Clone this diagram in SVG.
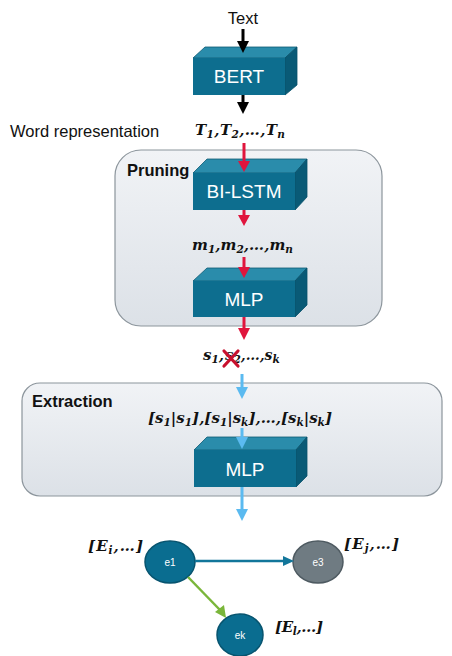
<svg xmlns="http://www.w3.org/2000/svg" width="452" height="656" viewBox="0 0 452 656">
  <defs>
    <linearGradient id="panelFill" x1="0" y1="0" x2="0" y2="1">
      <stop offset="0" stop-color="#f1f3f6"/>
      <stop offset="1" stop-color="#dce1e7"/>
    </linearGradient>
    <style>
      .panel { fill: url(#panelFill); stroke: #8c959c; stroke-width: 1.2; }
      .front { fill: #0d6e8f; }
      .top { fill: #2a8cab; stroke: #0c5a74; stroke-width: 0.8; }
      .side { fill: #095a76; stroke: #08506a; stroke-width: 0.8; }
      .boxlabel { font-family: "Liberation Sans", Arial, sans-serif; font-size: 19px; fill: #ffffff; text-anchor: middle; }
      .plain { font-family: "Liberation Sans", Arial, sans-serif; font-size: 16.5px; fill: #111; }
      .title { font-family: "Liberation Sans", Arial, sans-serif; font-size: 16.5px; font-weight: bold; fill: #111; }
      .math { font-family: "DejaVu Serif", "Liberation Serif", serif; font-size: 15px; font-weight: bold; font-style: italic; fill: #111; }
      .sub { font-size: 10.5px; }
      .nodelabel { font-family: "Liberation Sans", Arial, sans-serif; font-size: 10px; fill: #ffffff; text-anchor: middle; }
      .red { stroke: #e0153d; stroke-width: 3; fill: none; }
      .redhead { fill: #e0153d; }
      .blue { stroke: #5bbaf0; stroke-width: 3; fill: none; }
      .bluehead { fill: #5bbaf0; }
      .black { stroke: #000; stroke-width: 3; fill: none; }
      .blackhead { fill: #000; }
    </style>
  </defs>

  <!-- background panels -->
  <g id="pruning">
    <rect class="panel" x="115" y="150" width="267" height="176" rx="26"/>
    <text class="title" x="127" y="176">Pruning</text>
  </g>
  <g id="extraction">
    <rect class="panel" x="22" y="383" width="420" height="113" rx="18"/>
    <text class="title" x="32" y="407">Extraction</text>
  </g>

  <!-- plain and math labels -->
  <g id="labels">
    <text class="plain" x="243" y="24" text-anchor="middle" font-size="19">Text</text>
    <text class="plain" x="10" y="137">Word representation</text>
    <text class="math" x="195" y="135" textLength="90" lengthAdjust="spacing">T<tspan class="sub" dy="3">1</tspan><tspan dy="-3">,T</tspan><tspan class="sub" dy="3">2</tspan><tspan dy="-3">,…,T</tspan><tspan class="sub" dy="3">n</tspan></text>
    <text class="math" x="192" y="250" textLength="101" lengthAdjust="spacing">m<tspan class="sub" dy="3">1</tspan><tspan dy="-3">,m</tspan><tspan class="sub" dy="3">2</tspan><tspan dy="-3">,…,m</tspan><tspan class="sub" dy="3">n</tspan></text>
    <text class="math" x="203" y="360">s<tspan class="sub" dy="3">1</tspan><tspan dy="-3">,</tspan><tspan x="225">s</tspan><tspan class="sub" dy="3">2</tspan><tspan dy="-3" font-size="14">,…,s</tspan><tspan class="sub" dy="3" font-size="10">k</tspan></text>
    <text class="math" x="148" y="423" textLength="184" lengthAdjust="spacing">[s<tspan class="sub" dy="3">1</tspan><tspan dy="-3">|s</tspan><tspan class="sub" dy="3">1</tspan><tspan dy="-3">],[s</tspan><tspan class="sub" dy="3">1</tspan><tspan dy="-3">|s</tspan><tspan class="sub" dy="3">k</tspan><tspan dy="-3">],…,[s</tspan><tspan class="sub" dy="3">k</tspan><tspan dy="-3">|s</tspan><tspan class="sub" dy="3">k</tspan><tspan dy="-3">]</tspan></text>
    <text class="math" x="88" y="551" textLength="55" lengthAdjust="spacing">[E<tspan class="sub" dy="3">i</tspan><tspan dy="-3">,…]</tspan></text>
    <text class="math" x="344" y="549" textLength="55" lengthAdjust="spacing">[E<tspan class="sub" dy="3">j</tspan><tspan dy="-3">,…]</tspan></text>
    <text class="math" x="275" y="632" textLength="48" lengthAdjust="spacing">[E<tspan class="sub" dy="3">l</tspan><tspan dy="-3">,…]</tspan></text>
    <!-- pruned element mark -->
    <g stroke="#c8102e" stroke-width="3.2" stroke-linecap="round">
      <line x1="224" y1="351" x2="238" y2="366"/>
      <line x1="238" y1="351" x2="224" y2="366"/>
    </g>
  </g>

  <!-- 3D blocks -->
  <g id="bert">
    <polygon class="top" points="193,58 205,47 297,47 285,58"/>
    <polygon class="side" points="285,58 297,47 297,85 285,95"/>
    <rect class="front" x="193" y="58" width="92" height="37"/>
    <text class="boxlabel" x="239" y="83">BERT</text>
  </g>
  <g id="bilstm">
    <polygon class="top" points="193,173 207,159 307,159 295,173"/>
    <polygon class="side" points="295,173 307,159 307,197 295,210"/>
    <rect class="front" x="193" y="173" width="102" height="37"/>
    <text class="boxlabel" x="244" y="198">BI-LSTM</text>
  </g>
  <g id="mlp-pruning">
    <polygon class="top" points="193,281 207,268 307,268 295,281"/>
    <polygon class="side" points="295,281 307,268 307,305 295,317"/>
    <rect class="front" x="193" y="281" width="102" height="36"/>
    <text class="boxlabel" x="244" y="306">MLP</text>
  </g>
  <g id="mlp-extraction">
    <polygon class="top" points="194,450 207,437 307,437 296,450"/>
    <polygon class="side" points="296,450 307,437 307,476 296,487"/>
    <rect class="front" x="194" y="450" width="102" height="37"/>
    <text class="boxlabel" x="245" y="476">MLP</text>
  </g>

  <!-- entity nodes -->
  <g id="e1">
    <ellipse cx="170" cy="562" rx="25" ry="21" fill="#0a6d90" stroke="#07546f" stroke-width="1.5"/>
    <text class="nodelabel" x="170" y="566">e1</text>
  </g>
  <g id="e3">
    <ellipse cx="318" cy="562" rx="25" ry="21" fill="#6f7b82" stroke="#4e5a61" stroke-width="1.5"/>
    <text class="nodelabel" x="318" y="566">e3</text>
  </g>
  <g id="ek">
    <ellipse cx="240" cy="635" rx="23" ry="21" fill="#0a6d90" stroke="#07546f" stroke-width="1.5"/>
    <text class="nodelabel" x="240" y="639">ek</text>
  </g>

  <!-- connectors -->
  <g id="connectors">
    <!-- black -->
    <line class="black" x1="243" y1="29" x2="243" y2="42"/>
    <polygon class="blackhead" points="237,41 249,41 243,53"/>
    <line class="black" x1="243" y1="95" x2="243" y2="103"/>
    <polygon class="blackhead" points="237,102 249,102 243,114"/>
    <!-- red -->
    <line class="red" x1="244" y1="143" x2="244" y2="162"/>
    <polygon class="redhead" points="238,161 250,161 244,172"/>
    <line class="red" x1="244" y1="210" x2="244" y2="216"/>
    <polygon class="redhead" points="238,215 250,215 244,226"/>
    <line class="red" x1="244" y1="257" x2="244" y2="268"/>
    <polygon class="redhead" points="238,267 250,267 244,278"/>
    <line class="red" x1="244" y1="317" x2="244" y2="329"/>
    <polygon class="redhead" points="238,328 250,328 244,340"/>
    <!-- blue -->
    <line class="blue" x1="242" y1="374" x2="242" y2="388"/>
    <polygon class="bluehead" points="236,387 248,387 242,399"/>
    <line class="blue" x1="242" y1="428" x2="242" y2="438"/>
    <polygon class="bluehead" points="236,437 248,437 242,449"/>
    <line class="blue" x1="242" y1="487" x2="242" y2="510"/>
    <polygon class="bluehead" points="236,509 248,509 242,521"/>
    <!-- graph edges -->
    <line x1="195" y1="561" x2="284" y2="561" stroke="#12769a" stroke-width="2.5"/>
    <polygon points="283,556 294,561 283,566" fill="#12769a"/>
    <line x1="188" y1="577" x2="220" y2="610" stroke="#7ab63a" stroke-width="2.5"/>
    <polygon points="215,612 224,605 226,618" fill="#7ab63a"/>
  </g>
</svg>
